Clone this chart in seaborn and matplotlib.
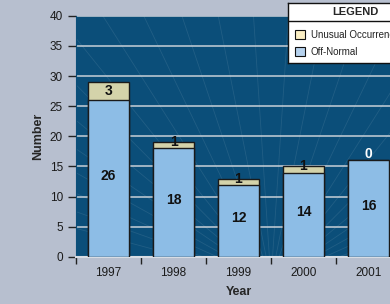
import numpy as np
import pandas as pd
import matplotlib.pyplot as plt
import seaborn as sns

years = ['1997', '1998', '1999', '2000', '2001']
off_normal = [26, 18, 12, 14, 16]
unusual = [3, 1, 1, 1, 0]

df = pd.DataFrame({'Year': years, 'Off-Normal': off_normal, 'Unusual': unusual})
df['Total'] = df['Off-Normal'] + df['Unusual']

sns.set_style('ticks')
plt.rcParams['font.family'] = ['Liberation Sans', 'DejaVu Sans']

fig = plt.figure(figsize=(3.9, 3.04), dpi=100)
fig.patch.set_facecolor('#b7bfcf')
ax = fig.add_axes([0.195, 0.155, 0.833, 0.793])
ax.set_facecolor('#0b4e79')

# faint rays in the background
for ang in np.linspace(20, 160, 26):
    t = np.radians(ang)
    ax.plot([0.6, 0.6 + 2 * np.cos(t)], [-0.1, -0.1 + 2 * np.sin(t)],
            transform=ax.transAxes, color='white', alpha=0.09, lw=0.6, zorder=0)

ax.set_ylim(0, 40)
ax.set_yticks(range(0, 41, 5))
ax.yaxis.grid(True, color='#c8d0d8', lw=1.1, zorder=0.5)
ax.set_axisbelow(True)

sns.barplot(data=df, x='Year', y='Total', color='#d4d3aa', edgecolor='#1a1a1a',
            linewidth=1.0, width=0.62, saturation=1, ax=ax, zorder=2)
sns.barplot(data=df, x='Year', y='Off-Normal', color='#8dbde6', edgecolor='#1a1a1a',
            linewidth=1.0, width=0.62, saturation=1, ax=ax, zorder=3)
ax.set_xlim(-0.5, 4.5)

for i, (o, u) in enumerate(zip(off_normal, unusual)):
    ax.text(i, o / 2 + 0.5, str(o), ha='center', va='center', fontsize=10,
            fontweight='bold', color='#111111', zorder=5)
    ax.text(i, o + max(u, 2) / 2, str(u), ha='center', va='center',
            fontsize=10, fontweight='bold',
            color='white' if u == 0 else '#111111', zorder=5)

ax.set_xticks(range(5))
ax.set_xticklabels(years)
ax.set_xticks(np.arange(-0.5, 5, 1), minor=True)
ax.tick_params(axis='x', which='major', length=0, pad=7, labelsize=8.5, colors='#1a1a1a')
ax.tick_params(axis='x', which='minor', length=5, width=1, color='#222222')
ax.tick_params(axis='y', length=6, width=1, color='#222222', labelsize=8.5, labelcolor='#1a1a1a')

for s in ['top', 'right']:
    ax.spines[s].set_visible(False)
ax.spines['left'].set_color('#0b4e79')
ax.spines['bottom'].set_color('#d8dde4')
ax.spines['bottom'].set_linewidth(1.5)

ax.set_xlabel('Year', fontsize=9, fontweight='bold', labelpad=5)
ax.set_ylabel('Number', fontsize=9, fontweight='bold', labelpad=4)

# legend box
lg = ax.inset_axes([0.652, 0.805, 0.45, 0.249])
lg.set_xlim(0, 1)
lg.set_ylim(0, 1)
lg.set_facecolor('white')
lg.set_xticks([])
lg.set_yticks([])
for s in lg.spines.values():
    s.set_color('#111111')
    s.set_linewidth(1)
lg.axhline(0.70, color='#111111', lw=1)
lg.text(0.46, 0.85, 'LEGEND', ha='center', va='center', fontsize=8, fontweight='bold')
lg.add_patch(plt.Rectangle((0.05, 0.39), 0.065, 0.16, facecolor='#fbefc4', edgecolor='#111111', lw=0.8))
lg.text(0.155, 0.46, 'Unusual Occurrence', va='center', fontsize=7, color='#222222')
lg.add_patch(plt.Rectangle((0.05, 0.11), 0.065, 0.16, facecolor='#b6d2ee', edgecolor='#111111', lw=0.8))
lg.text(0.155, 0.18, 'Off-Normal', va='center', fontsize=7, color='#222222')

fig.savefig('out.png', dpi=100)
